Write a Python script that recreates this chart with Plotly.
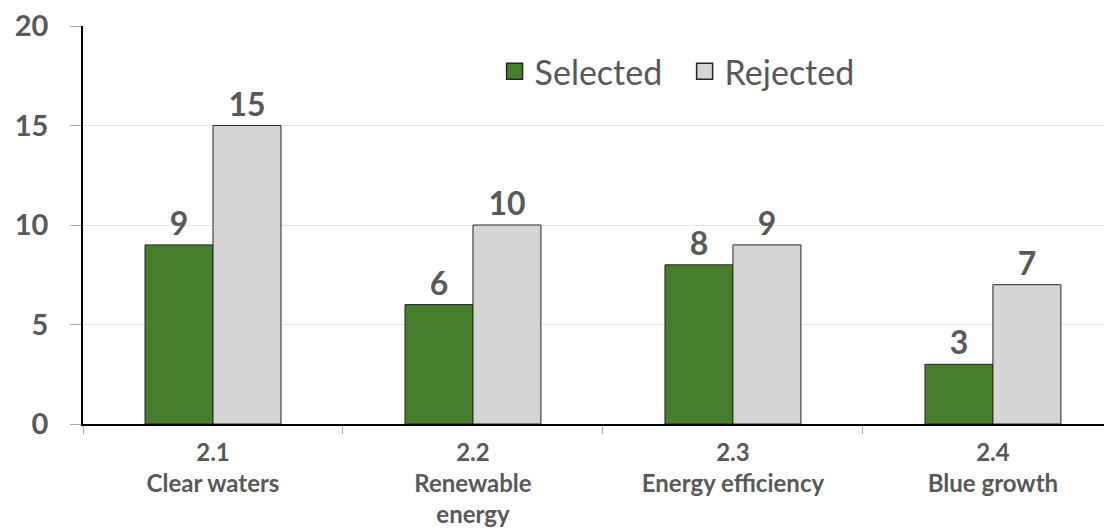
import plotly.graph_objects as go

categories = ["2.1<br>Clear waters", "2.2<br>Renewable<br>energy", "2.3<br>Energy efficiency", "2.4<br>Blue growth"]
series_names = ["Selected", "Rejected"]
selected = [9, 6, 8, 3]
rejected = [15, 10, 9, 7]
y_ticks = [0, 5, 10, 15, 20]

TXT = "#595959"
FONT = "Lato, 'Open Sans', sans-serif"
COLORS = {"Selected": "#467E2E", "Rejected": "#D5D5D5"}
EDGE = "#262626"
PAD = "\u00a0" * 2

fig = go.Figure()
for name, vals in zip(series_names, [selected, rejected]):
    fig.add_trace(go.Bar(
        name=name, x=categories, y=vals, showlegend=False,
        marker=dict(color=COLORS[name], line=dict(color=EDGE, width=1)),
        text=vals, textposition="outside", cliponaxis=False,
        textfont=dict(size=32, color=TXT, family=FONT, weight="bold"),
    ))
# legend proxies with larger square swatches
for name in series_names:
    fig.add_trace(go.Scatter(
        name=name + PAD, x=[None], y=[None], mode="markers",
        marker=dict(symbol="square", size=21, color=COLORS[name],
                    line=dict(color=EDGE, width=1.5)),
    ))

fig.update_layout(
    width=1112, height=531,
    margin=dict(l=75, r=8, t=18, b=115),
    paper_bgcolor="white", plot_bgcolor="white",
    barmode="group", bargap=0.477, bargroupgap=0,
    font=dict(family=FONT, color=TXT),
    legend=dict(
        orientation="h", x=0.400, y=0.885, xanchor="left", yanchor="middle",
        font=dict(size=34, color=TXT, family=FONT),
        bgcolor="rgba(0,0,0,0)", itemwidth=30,
    ),
    showlegend=True,
)
fig.update_xaxes(
    range=[-0.5, 3.458], automargin=False,
    showline=True, linecolor="black", linewidth=1.5,
    ticks="outside", ticklen=8, tickcolor="#A6A6A6",
    tickson="boundaries",
    showgrid=False,
    ticklabelstandoff=6,
    tickfont=dict(size=24, color=TXT, family=FONT, weight="bold"),
)
fig.update_yaxes(
    range=[0, 20], tickvals=y_ticks, automargin=False,
    showline=True, linecolor="black", linewidth=1.5,
    ticks="outside", ticklen=11, tickcolor="#A6A6A6",
    showgrid=True, gridcolor="#E6E6E6", gridwidth=1,
    zeroline=False,
    ticklabelstandoff=16, ticklabeloverflow="allow",
    tickfont=dict(size=29, color=TXT, family=FONT, weight="bold"),
)

fig.write_html("out.html")
